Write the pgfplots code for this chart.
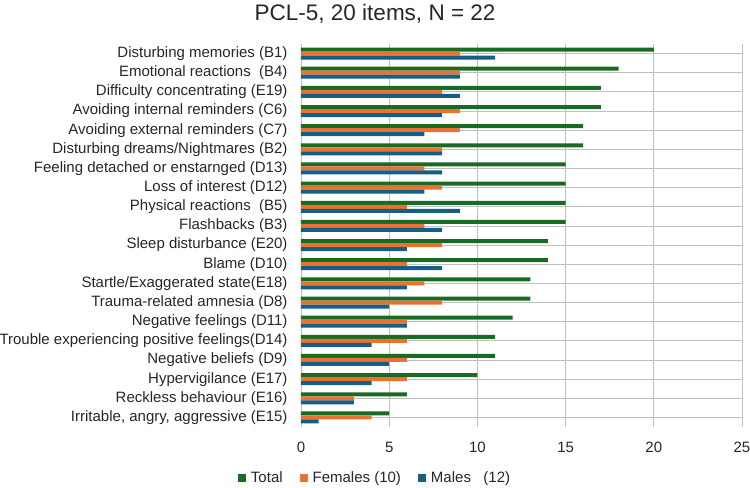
\documentclass[border=0pt]{standalone}
\usepackage{pgfplots}
\pgfplotsset{compat=1.18}
\usepackage{fontspec}
\setmainfont{Liberation Sans}
\definecolor{cTot}{HTML}{196B24}
\definecolor{cFem}{HTML}{E97132}
\definecolor{cMal}{HTML}{156082}
\definecolor{grid}{HTML}{D9D9D9}
\begin{document}
\begin{tikzpicture}
\begin{axis}[
  scale only axis,
  width=441bp, height=383bp,
  xbar=0pt, bar width=4bp,
  xmin=0, xmax=25, xtick={0,5,...,25},
  ymin=-0.5, ymax=19.5, y dir=reverse,
  ytick={0,...,19},
  yticklabels={Disturbing memories (B1),Emotional reactions\ \ (B4),Difficulty concentrating (E19),Avoiding internal reminders (C6),Avoiding external reminders (C7),Disturbing dreams/Nightmares (B2),Feeling detached or enstarnged (D13),Loss of interest (D12),Physical reactions\ \ (B5),Flashbacks (B3),Sleep disturbance (E20),Blame (D10),Startle/Exaggerated state(E18),Trauma-related amnesia (D8),Negative feelings (D11),Trouble experiencing positive feelings(D14),Negative beliefs (D9),Hypervigilance (E17),Reckless behaviour (E16),{Irritable, angry, aggressive (E15)}},
  axis line style={draw=none},
  major tick length=0pt,
  xmajorgrids, grid style={grid, line width=0.8bp},
  tick label style={font=\fontsize{15bp}{17bp}\selectfont, text=black!85},
  /pgf/number format/assume math mode=true,
  yticklabel style={xshift=-10bp},
  xticklabel style={yshift=-12bp},
  legend style={at={(0.168,0)}, anchor=center, yshift=-51bp, draw=none, font=\fontsize{15bp}{17bp}\selectfont, text=black!85, legend columns=3, /tikz/every even column/.append style={column sep=15bp}},
  legend image code/.code={\fill[#1] (0bp,-4bp) rectangle (8bp,4bp); \path (11bp,0bp);},
  title={PCL-5, 20 items, N = 22},
  title style={at={(0.168,1)}, anchor=center, yshift=24bp, font=\fontsize{22.5bp}{25bp}\selectfont, text=black!85},
]
\addplot[fill=cTot, draw=none, bar shift=4bp] coordinates {(20,0) (18,1) (17,2) (17,3) (16,4) (16,5) (15,6) (15,7) (15,8) (15,9) (14,10) (14,11) (13,12) (13,13) (12,14) (11,15) (11,16) (10,17) (6,18) (5,19)};
\addplot[fill=cFem, draw=none, bar shift=0bp] coordinates {(9,0) (9,1) (8,2) (9,3) (9,4) (8,5) (7,6) (8,7) (6,8) (7,9) (8,10) (6,11) (7,12) (8,13) (6,14) (6,15) (6,16) (6,17) (3,18) (4,19)};
\addplot[fill=cMal, draw=none, bar shift=-4bp] coordinates {(11,0) (9,1) (9,2) (8,3) (7,4) (8,5) (8,6) (7,7) (9,8) (8,9) (6,10) (8,11) (6,12) (5,13) (6,14) (4,15) (5,16) (4,17) (3,18) (1,19)};
\legend{Total, Females (10), Males\ \ \ (12)}
\end{axis}
\pgfresetboundingbox
\path[use as bounding box] (current axis.south west) ++(-301bp,-61bp) rectangle ++(750bp,488bp);
\end{tikzpicture}
\end{document}
